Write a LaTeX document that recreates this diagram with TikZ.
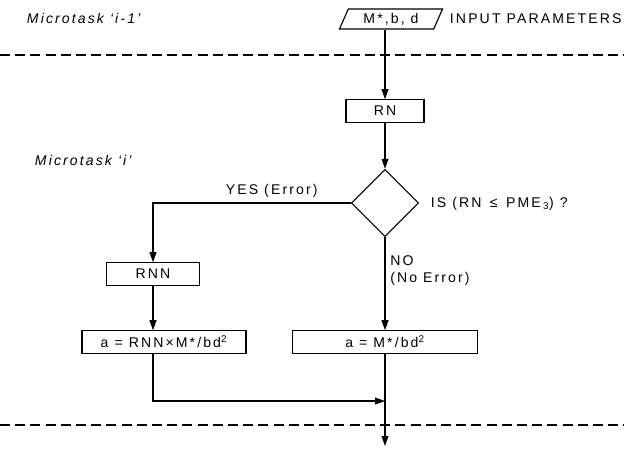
\documentclass[tikz,border=0pt]{standalone}
\usepackage{fontspec}
\setmainfont[LetterSpace=15]{Liberation Sans}
\usepackage{tikz}
\usetikzlibrary{arrows.meta, shapes.geometric, positioning, calc}

\begin{document}
\begin{tikzpicture}[x=0.025cm, y=-0.025cm,
      font=\fontsize{10}{12}\selectfont,
      >={Triangle[length=0.25cm, width=0.17cm]},
      procbox/.style={draw, thick, minimum height=0.56cm, inner sep=2pt},
      iobox/.style={draw, thick, trapezium, trapezium left angle=68, trapezium right angle=112,
                    trapezium stretches=true, minimum width=2.58cm, minimum height=0.5cm, inner sep=1pt},
      decision/.style={draw, thick, diamond, aspect=1, minimum size=1.68cm, inner sep=0pt},
      flow/.style={thick, ->},
      sep/.style={thick, dash pattern=on 0.25cm off 0.13cm},
      tasklabel/.style={font=\fontsize{10}{12}\selectfont\itshape, anchor=west}
    ]
      \useasboundingbox (0,0) rectangle (624,448);

      % microtask separators
      \draw[sep] (0,55) -- (624,55);
      \draw[sep] (0,425) -- (624,425);
      \node[tasklabel] (t1) at (22,18)  {Microtask `i-1'};
      \node[tasklabel] (t2) at (30,160) {Microtask `i'};

      % nodes
      \node[iobox] (inp) at (391,19) {M*,b, d};
      \node[anchor=west] (inplbl) at (445,19) {INPUT PARAMETERS};
      \node[procbox, minimum width=1.95cm] (rn) at (385,111) {RN};
      \node[decision] (dec) at (385,203) {};
      \node[anchor=west] (qlbl) at (426,204) {IS (RN \,≤\, PME\,\textsubscript{3}) ?};
      \node[procbox, minimum width=2.33cm] (rnn) at (153,274) {RNN};
      \node[procbox, minimum width=4.1cm] (fa) at (164,342) {a = RNN×M*/bd\textsuperscript{2}};
      \node[procbox, minimum width=4.63cm] (fb) at (385,342) {a = M*/bd\textsuperscript{2}};
      \coordinate (join) at (385,401);
      \coordinate (out) at (385,446);

      % connectors
      \draw[flow] (inp.south -| rn.north) -- (rn.north);
      \draw[flow] (rn) -- (dec);
      \draw[flow] (dec.west) -| node[above, pos=0.2] {YES (Error)} (rnn.north);
      \draw[flow] (dec.south) -- node[right, pos=0.36, align=left] {NO\\(No Error)} (fb.north);
      \draw[flow] (rnn) -- (rnn |- fa.north);
      \draw[flow] (rnn |- fa.south) |- (join);
      \draw[flow] (fb) -- (out);
    \end{tikzpicture}
\end{document}
